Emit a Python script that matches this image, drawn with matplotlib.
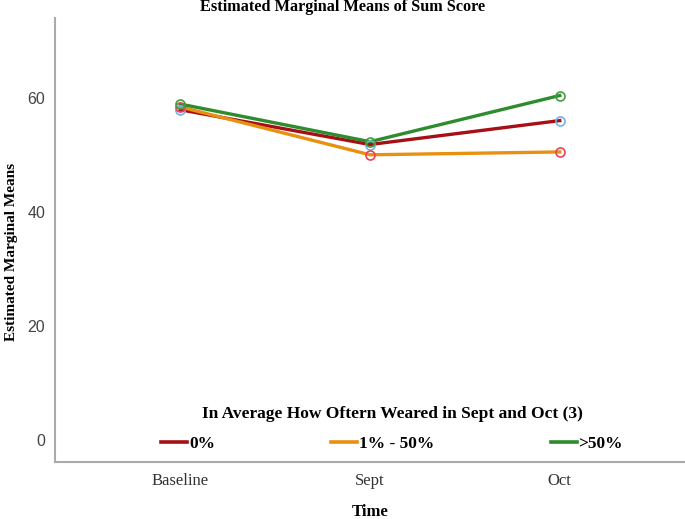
import matplotlib.pyplot as plt
from matplotlib.lines import Line2D

plt.rcParams['font.family'] = ['Liberation Serif', 'DejaVu Serif']

times = ['Baseline', 'Sept', 'Oct']
groups = ['0%', '1% - 50%', '>50%']
g0 = [57.9, 51.8, 56.0]
g1 = [58.4, 50.0, 50.5]
g2 = [58.9, 52.3, 60.4]
line_cols = ['#a50f15', '#e8900f', '#2e8b2e']
mark_cols = ['#7aaee6', '#e8435a', '#3f9f3f']

fig = plt.figure(figsize=(6.85, 5.19), dpi=100)
ax = fig.add_axes([55/685, 57/519, 630/685, 444/519])

x = range(len(times))
for vals, lc in zip([g0, g1, g2], line_cols):
    ax.plot(x, vals, color=lc, lw=2.4, zorder=2)
for vals, mc in zip([g0, g1, g2], mark_cols):
    ax.plot(x, vals, ls='none', marker='o', ms=6.5, mfc='none', mec=mc, mew=1.2, zorder=3)

ax.set_xlim(-0.66, 2.66)
ax.set_ylim(-3.9, 74)
ax.set_xticks(list(x))
ax.set_xticklabels(times)
ax.set_yticks([0, 20, 40, 60])
ax.tick_params(length=0, labelsize=12, colors='#333333')
ax.tick_params(axis='x', pad=8)
ax.tick_params(axis='y', pad=7, labelsize=11.5, colors='#444444')
for t in ax.get_yticklabels():
    t.set_family(['Liberation Sans', 'DejaVu Sans'])
for s in ['top', 'right']:
    ax.spines[s].set_visible(False)
for s in ['left', 'bottom']:
    ax.spines[s].set_color('#aaaaaa')
    ax.spines[s].set_linewidth(1.5)

fig.text(0.5, 1 - 7/519, 'Estimated Marginal Means of Sum Score', fontsize=11.7,
         fontweight='bold', ha='center', va='center')
fig.text(12/685, 1 - 252/519, 'Estimated Marginal Means', fontsize=11, fontweight='bold',
         rotation=90, ha='center', va='center')
fig.text(370/685, 1 - 512/519, 'Time', fontsize=12, fontweight='bold', ha='center', va='center')

handles = [Line2D([], [], color=c, lw=2.6) for c in line_cols]
leg = ax.legend(handles, groups, title='In Average How Oftern Weared in Sept and Oct (3)',
                loc='lower center', bbox_to_anchor=(0.535, -0.012), ncol=3, frameon=False,
                prop={'size': 12.5, 'weight': 'bold'}, handlelength=1.5, handletextpad=0.1,
                columnspacing=6.7, labelspacing=0.8)
leg.get_title().set_fontsize(12.5)
leg.get_title().set_fontweight('bold')

fig.savefig('out.png', dpi=100)
